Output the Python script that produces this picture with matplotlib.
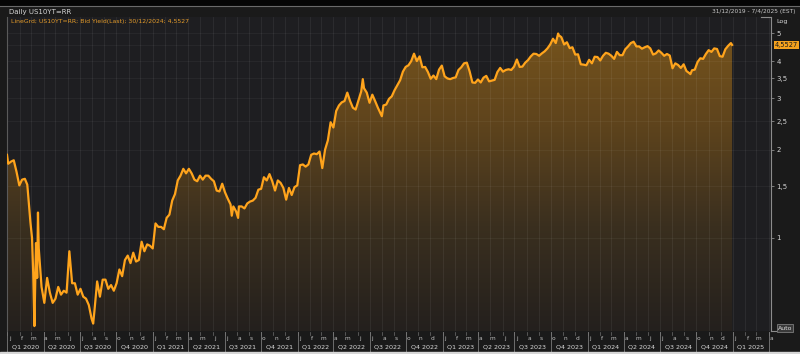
import matplotlib
matplotlib.use("Agg")
import matplotlib.pyplot as plt
import matplotlib.transforms as mtransforms
from matplotlib.colors import LinearSegmentedColormap
from matplotlib.patches import Rectangle
import numpy as np
import pandas as pd

# US 10Y yield (%), weekly Friday closes
y2020 = [1.79, 1.82, 1.84, 1.68, 1.51,
         1.58, 1.59, 1.47, 1.13,
         0.76, 0.96, 0.92, 0.68,
         0.60, 0.73, 0.65, 0.60,
         0.62, 0.68, 0.64, 0.66, 0.65,
         0.90, 0.70, 0.70, 0.64,
         0.67, 0.63, 0.62, 0.59, 0.53,
         0.56, 0.71, 0.63, 0.72,
         0.72, 0.67, 0.69, 0.66,
         0.70, 0.78, 0.74, 0.84, 0.87,
         0.82, 0.89, 0.83, 0.84,
         0.97, 0.90, 0.95, 0.94]
y2021 = [0.92, 1.12, 1.09, 1.09, 1.07,
         1.17, 1.20, 1.34, 1.41,
         1.57, 1.63, 1.72, 1.66,
         1.72, 1.66, 1.58, 1.56, 1.63,
         1.58, 1.63, 1.63, 1.59,
         1.56, 1.45, 1.44, 1.53,
         1.43, 1.36, 1.30, 1.28, 1.23,
         1.28, 1.28, 1.26, 1.31,
         1.33, 1.34, 1.37, 1.46,
         1.47, 1.61, 1.57, 1.65, 1.56,
         1.45, 1.57, 1.54, 1.48,
         1.35, 1.48, 1.40, 1.49, 1.51]
y2022 = [1.77, 1.78, 1.75, 1.78,
         1.92, 1.94, 1.93, 1.97,
         1.73, 2.00, 2.15, 2.48,
         2.38, 2.71, 2.83, 2.90, 2.93,
         3.13, 2.93, 2.78, 2.74,
         2.94, 3.16, 3.24, 3.13,
         2.89, 3.08, 2.93, 2.78, 2.65,
         2.83, 2.85, 2.98, 3.04,
         3.19, 3.32, 3.45, 3.69, 3.83,
         3.88, 4.01, 4.25, 4.01,
         4.16, 3.82, 3.83, 3.68,
         3.49, 3.58, 3.48, 3.75, 3.87]
y2023 = [3.56, 3.50, 3.48, 3.51,
         3.53, 3.74, 3.82, 3.94,
         3.96, 3.70, 3.39, 3.38, 3.47,
         3.39, 3.52, 3.57, 3.42,
         3.44, 3.46, 3.68, 3.80,
         3.69, 3.74, 3.76, 3.74, 3.84,
         4.06, 3.83, 3.84, 3.96,
         4.04, 4.16, 4.25, 4.24,
         4.18, 4.26, 4.33, 4.43, 4.57,
         4.78, 4.62, 4.92, 4.84,
         4.57, 4.65, 4.44, 4.47,
         4.22, 4.23, 3.91, 3.90, 3.88]
y2024 = [4.05, 3.94, 4.15, 4.14,
         4.03, 4.18, 4.28, 4.25,
         4.18, 4.08, 4.31, 4.20, 4.20,
         4.40, 4.50, 4.62, 4.67,
         4.50, 4.50, 4.42, 4.47, 4.51,
         4.43, 4.22, 4.26, 4.36,
         4.28, 4.18, 4.24, 4.19,
         3.79, 3.94, 3.89, 3.80, 3.91,
         3.71, 3.65, 3.73, 3.75,
         3.98, 4.10, 4.08, 4.24,
         4.37, 4.31, 4.43, 4.41, 4.17,
         4.15, 4.40, 4.52, 4.62]
weekly_start = "2020-01-03"

# single days that the weekly closes miss (spikes, first and last point)
extra_dates = ["2019-12-31", "2020-02-20", "2020-03-03", "2020-03-09", "2020-03-16",
               "2020-03-18", "2020-08-04", "2021-07-19", "2021-08-04", "2022-06-14",
               "2022-08-01", "2023-10-19", "2024-09-16", "2024-12-30"]
extra_values = [1.92, 1.52, 1.00, 0.50, 0.73,
                1.22, 0.51, 1.19, 1.17, 3.48,
                2.60, 4.98, 3.62, 4.5527]

last_value = 4.5527
last_label = "4,5527"
y_ticks = [1, 1.5, 2, 2.5, 3, 3.5, 4, 5]
y_tick_labels = ["1", "1,5", "2", "2,5", "3", "3,5", "4", "5"]
month_letters = ["j", "f", "m", "a", "m", "j", "j", "a", "s", "o", "n", "d"]

weekly = y2020 + y2021 + y2022 + y2023 + y2024
dates = pd.date_range(weekly_start, periods=len(weekly), freq="W-FRI")
series = pd.concat([pd.Series(weekly, index=dates),
                    pd.Series(extra_values, index=pd.to_datetime(extra_dates))]).sort_index()

W, H = 800, 354
fig = plt.figure(figsize=(W / 100, H / 100), dpi=100, facecolor="#1a1a1a")


def fx(x):
    return x / W


def fy(y):
    return 1 - y / H


# top toolbar strip and bottom edge
fig.patches.append(Rectangle((0, fy(5)), 1, 5 / H, transform=fig.transFigure, color="#050505"))
fig.lines.append(plt.Line2D([0, 1], [fy(5.5), fy(5.5)], transform=fig.transFigure, color="#6a6a6a", lw=0.8))
fig.patches.append(Rectangle((0, 0), 1, 2.5 / H, transform=fig.transFigure, color="#d6d6d6"))

ax_top, ax_bot, ax_l, ax_r = 17, 331, 7, 771
ax = fig.add_axes([fx(ax_l), fy(ax_bot), fx(ax_r - ax_l), (ax_bot - ax_top) / H], facecolor="#1e1e21")
ax.set_yscale("log")

xmin, xmax = pd.Timestamp("2019-12-31"), pd.Timestamp("2025-04-07")

# gradient fill under the line
poly = ax.fill_between(series.index, series.values, 0.3, facecolor="none", edgecolor="none")
cmap = LinearSegmentedColormap.from_list("fade", ["#24201d", "#3a2f1f", "#5f441c", "#79561d"])
grad = np.linspace(0, 1, 256).reshape(-1, 1)
im = ax.imshow(grad, cmap=cmap, aspect="auto", extent=[0, 1, 0, 1],
               transform=ax.transAxes, origin="lower", zorder=1)
im.set_clip_path(poly.get_paths()[0], transform=ax.transData)

ax.plot(series.index, series.values, color="#ffa41c", lw=1.6, zorder=3)

ax.set_xlim(xmin, xmax)
ax.set_ylim(0.481, 5.67)

# grid: monthly verticals, horizontals at tick values
months = pd.date_range("2020-01-01", "2025-04-01", freq="MS")
for m in months:
    ax.axvline(m, color="#ffffff", alpha=0.06, lw=0.7, zorder=1.5)
for v in y_ticks + [last_value]:
    ax.axhline(v, color="#ffffff", alpha=0.05, lw=0.6, zorder=1.5)

ax.yaxis.tick_right()
ax.minorticks_off()
ax.set_yticks(y_ticks)
ax.set_yticklabels(y_tick_labels)
ax.tick_params(axis="y", colors="#8a8a8a", labelcolor="#d2d2d2", labelsize=5,
               length=2.5, width=0.6, pad=1.5)
ax.set_xticks([])
for side in ["top", "bottom"]:
    ax.spines[side].set_visible(False)
ax.spines["left"].set_color("#5a5a5a")
ax.spines["right"].set_color("#8c8c8c")
ax.spines["left"].set_linewidth(0.8)
ax.spines["right"].set_linewidth(0.8)

# last value tag
blend_y = mtransforms.blended_transform_factory(ax.transAxes, ax.transData)
ax.text(1.005, last_value, last_label, transform=blend_y, fontsize=4.8, color="#1a1a1a",
        va="center", ha="left", clip_on=False, zorder=5,
        bbox=dict(boxstyle="square,pad=0.15", facecolor="#f5a21e", edgecolor="none"))

# bottom axis: month letters, quarter labels, quarter separators
blend_x = mtransforms.blended_transform_factory(ax.transData, ax.transAxes)
for m in months:
    if m >= xmax:
        continue
    ax.plot([m, m], [-0.004, -0.014], transform=blend_x, color="#6e6e6e", lw=0.5, clip_on=False)
    ax.text(m + pd.Timedelta(days=6), -0.024, month_letters[m.month - 1], transform=blend_x,
            fontsize=4.2, color="#bdbdbd", ha="center", va="center", clip_on=False)
quarters = pd.date_range("2020-01-01", "2025-04-01", freq="QS")
for q0, q1 in zip(quarters[:-1], quarters[1:]):
    mid = q0 + (q1 - q0) / 2
    ax.text(mid, -0.052, f"Q{q0.quarter} {q0.year}", transform=blend_x, fontsize=4.6,
            color="#d8d8d8", ha="center", va="center", clip_on=False)
for q in quarters:
    ax.plot([q, q], [-0.004, -0.07], transform=blend_x, color="#7a7a7a", lw=0.6, clip_on=False)

# header texts
fig.text(fx(9), fy(12), "Daily US10YT=RR", fontsize=5, color="#d4d4d4", va="center", ha="left")
fig.text(fx(11), fy(22), "LineGrd; US10YT=RR; Bid Yield(Last); 30/12/2024; 4,5527",
         fontsize=4.4, color="#e39b2a", va="center", ha="left")
fig.text(fx(796), fy(11), "31/12/2019 - 7/4/2025 (EST)", fontsize=4.2, color="#c8c8c8",
         va="center", ha="right")
fig.text(fx(776), fy(22), "Log", fontsize=4.6, color="#d4d4d4", va="center", ha="left")
fig.lines.append(plt.Line2D([fx(761), fx(771)], [fy(17), fy(17)], transform=fig.transFigure,
                            color="#8c8c8c", lw=0.8))
fig.lines.append(plt.Line2D([fx(771), fx(776)], [fy(331), fy(331)], transform=fig.transFigure,
                            color="#8c8c8c", lw=0.8))
fig.text(fx(785), fy(328), "Auto", fontsize=4.4, color="#e0e0e0", va="center", ha="center",
         bbox=dict(boxstyle="square,pad=0.2", facecolor="#3a3a3a", edgecolor="#8c8c8c", lw=0.5))

fig.savefig("out.png", dpi=100, facecolor=fig.get_facecolor())
